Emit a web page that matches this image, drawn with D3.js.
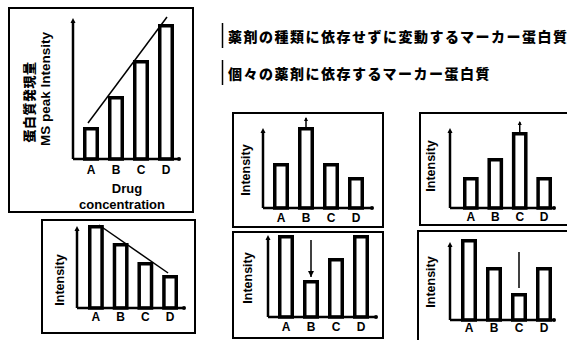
<!DOCTYPE html>
<html><head><meta charset="utf-8">
<script src="https://cdn.jsdelivr.net/npm/d3@7"></script>
<style>html,body{margin:0;padding:0;background:#fff;}svg{display:block;}</style>
</head><body>
<svg id="c" width="567" height="340"></svg>
<script>
// ---- data ----
const categories = ["A","B","C","D"];
const valuesMain = [32, 63, 99, 135];       // top-left: concentration dependent
const valuesDecrease = [83, 65, 46, 33];    // bottom-left
const valuesUpB = [45, 81, 45, 31];         // up at B
const valuesUpC = [31, 50, 76, 31];         // up at C
const valuesDownB = [82, 37, 59, 82];       // down at B
const valuesDownC = [81, 53, 27, 53];       // down at C
const trendMain = [36, 142];                // trend line start/end values
const trendDecrease = [83, 35];
const headline1 = "薬剤の種類に依存せずに変動するマーカー蛋白質";
const headline2 = "個々の薬剤に依存するマーカー蛋白質";
const yLabelJa = "蛋白質発現量";
const yLabelEn = "MS peak Intensity";
const yLabel = "Intensity";
const xLabel1 = "Drug";
const xLabel2 = "concentration";

// ---- layout ----
const svg = d3.select("#c");
const FONT = "'Liberation Sans', Arial, sans-serif";
const CJK = "'Noto Sans CJK JP', sans-serif";

const panels = [
  {box:[9,8,193,212], values:valuesMain, xr:[83,174], ax:73, bottom:159, top:18, xend:181, lab:170, trend:trendMain, tdx:[-3,1]},
  {box:[42,220,195,333], values:valuesDecrease, xr:[88,178], ax:77, bottom:308, top:226, xend:186, lab:317, trend:trendDecrease, tdx:[3,-2], ylab:[60,280]},
  {box:[233,113,383,227], values:valuesUpB, xr:[273,364], ax:263, bottom:208, top:128, xend:374, lab:218, arrow:{i:1, y1:127, y2:118, up:true}, ylab:[246,170]},
  {box:[420,113,572,225], values:valuesUpC, xr:[463,552], ax:450, bottom:208, top:128, xend:556, lab:217, arrow:{i:2, y1:132, y2:122, up:true}, ylab:[431,166]},
  {box:[233,232,383,338], values:valuesDownB, xr:[278,369], ax:268, bottom:317, top:235, xend:378, lab:327, arrow:{i:1, y1:240, y2:277, down:true}, ylab:[248,278]},
  {box:[418,231,572,342], values:valuesDownC, xr:[461,552], ax:450, bottom:320, top:242, xend:556, lab:328, arrow:{i:2, y1:252, y2:288}, ylab:[431,282]}
];

panels.forEach(p => {
  const g = svg.append("g");
  const [bx0,by0,bx1,by1] = p.box;
  g.append("rect").attr("x",bx0).attr("y",by0).attr("width",bx1-bx0).attr("height",by1-by0)
    .attr("fill","none").attr("stroke","#000").attr("stroke-width",2);

  const x = d3.scaleBand().domain(categories).range(p.xr).paddingInner(0.36).paddingOuter(0);
  const y = d3.scaleLinear().domain([0,100]).range([p.bottom, p.bottom-100]);

  // bars
  g.selectAll("rect.bar").data(p.values).enter().append("rect")
    .attr("class","bar")
    .attr("x",(d,i)=>x(categories[i])+1.75)
    .attr("y",d=>y(d)+1.75)
    .attr("width",x.bandwidth()-3.5)
    .attr("height",d=>y(0)-y(d)-1.75)
    .attr("fill","#fff").attr("stroke","#000").attr("stroke-width",3.5);

  // axes
  g.append("line").attr("x1",p.ax).attr("x2",p.ax).attr("y1",p.bottom).attr("y2",p.top+3)
    .attr("stroke","#000").attr("stroke-width",2.5);
  g.append("path").attr("d",`M${p.ax-2.5},${p.top+5}L${p.ax},${p.top}L${p.ax+2.5},${p.top+5}Z`).attr("fill","#000");
  g.append("line").attr("x1",p.ax).attr("x2",p.xend-3).attr("y1",p.bottom).attr("y2",p.bottom)
    .attr("stroke","#000").attr("stroke-width",2.5);
  g.append("circle").attr("cx",p.xend-2).attr("cy",p.bottom).attr("r",2).attr("fill","#000");

  // category labels
  g.selectAll("text.cat").data(categories).enter().append("text")
    .attr("x",d=>x(d)+x.bandwidth()/2).attr("y",p.lab)
    .attr("text-anchor","middle").attr("dominant-baseline","central")
    .attr("font-family",FONT).attr("font-weight","bold").attr("font-size",12).text(d=>d);

  // trend line
  if (p.trend) {
    const c0 = x(categories[0])+x.bandwidth()/2 + p.tdx[0];
    const c1 = x(categories[3])+x.bandwidth()/2 + p.tdx[1];
    g.append("line").attr("x1",c0).attr("y1",y(p.trend[0])).attr("x2",c1).attr("y2",y(p.trend[1]))
      .attr("stroke","#000").attr("stroke-width",1.5);
  }
  // arrows
  if (p.arrow) {
    const cx = x(categories[p.arrow.i])+x.bandwidth()/2;
    g.append("line").attr("x1",cx).attr("x2",cx).attr("y1",p.arrow.y1).attr("y2",p.arrow.y2)
      .attr("stroke","#000").attr("stroke-width",1.5);
    if (p.arrow.up) {
      g.append("path").attr("d",`M${cx-2},${p.arrow.y2+3}L${cx},${p.arrow.y2-1}L${cx+2},${p.arrow.y2+3}Z`).attr("fill","#000");
    }
    if (p.arrow.down) {
      g.append("path").attr("d",`M${cx-3},${p.arrow.y2-6}L${cx},${p.arrow.y2}L${cx+3},${p.arrow.y2-6}Z`).attr("fill","#000");
    }
  }
  // y label
  if (p.ylab) {
    g.append("text").attr("transform",`translate(${p.ylab[0]},${p.ylab[1]}) rotate(-90)`)
      .attr("text-anchor","middle").attr("dominant-baseline","central")
      .attr("font-family",FONT).attr("font-weight","bold").attr("font-size",12.5).text(yLabel);
  }
});

// top-left panel labels
svg.append("text").attr("transform","translate(28,102) rotate(-90)")
  .attr("text-anchor","middle").attr("dominant-baseline","central")
  .attr("font-family",CJK).attr("font-weight",900).attr("font-size",13).attr("letter-spacing",0.5).text(yLabelJa);
svg.append("text").attr("transform","translate(45,89) rotate(-90)")
  .attr("text-anchor","middle").attr("dominant-baseline","central")
  .attr("font-family",FONT).attr("font-weight","bold").attr("font-size",13.5).text(yLabelEn);
svg.append("text").attr("x",127).attr("y",188).attr("text-anchor","middle").attr("dominant-baseline","central")
  .attr("font-family",FONT).attr("font-weight","bold").attr("font-size",13).text(xLabel1);
svg.append("text").attr("x",122).attr("y",204).attr("text-anchor","middle").attr("dominant-baseline","central")
  .attr("font-family",FONT).attr("font-weight","bold").attr("font-size",13).text(xLabel2);

// headlines
[[headline1,36,23,48],[headline2,73,60,85]].forEach(([t,yy,b0,b1])=>{
  svg.append("line").attr("x1",222.5).attr("x2",222.5).attr("y1",b0).attr("y2",b1).attr("stroke","#000").attr("stroke-width",1.5);
  svg.append("text").attr("x",228).attr("y",yy).attr("dominant-baseline","central")
    .attr("font-family",CJK).attr("font-weight",900).attr("font-size",14).attr("letter-spacing",1.5).text(t);
});
</script>
</body></html>
